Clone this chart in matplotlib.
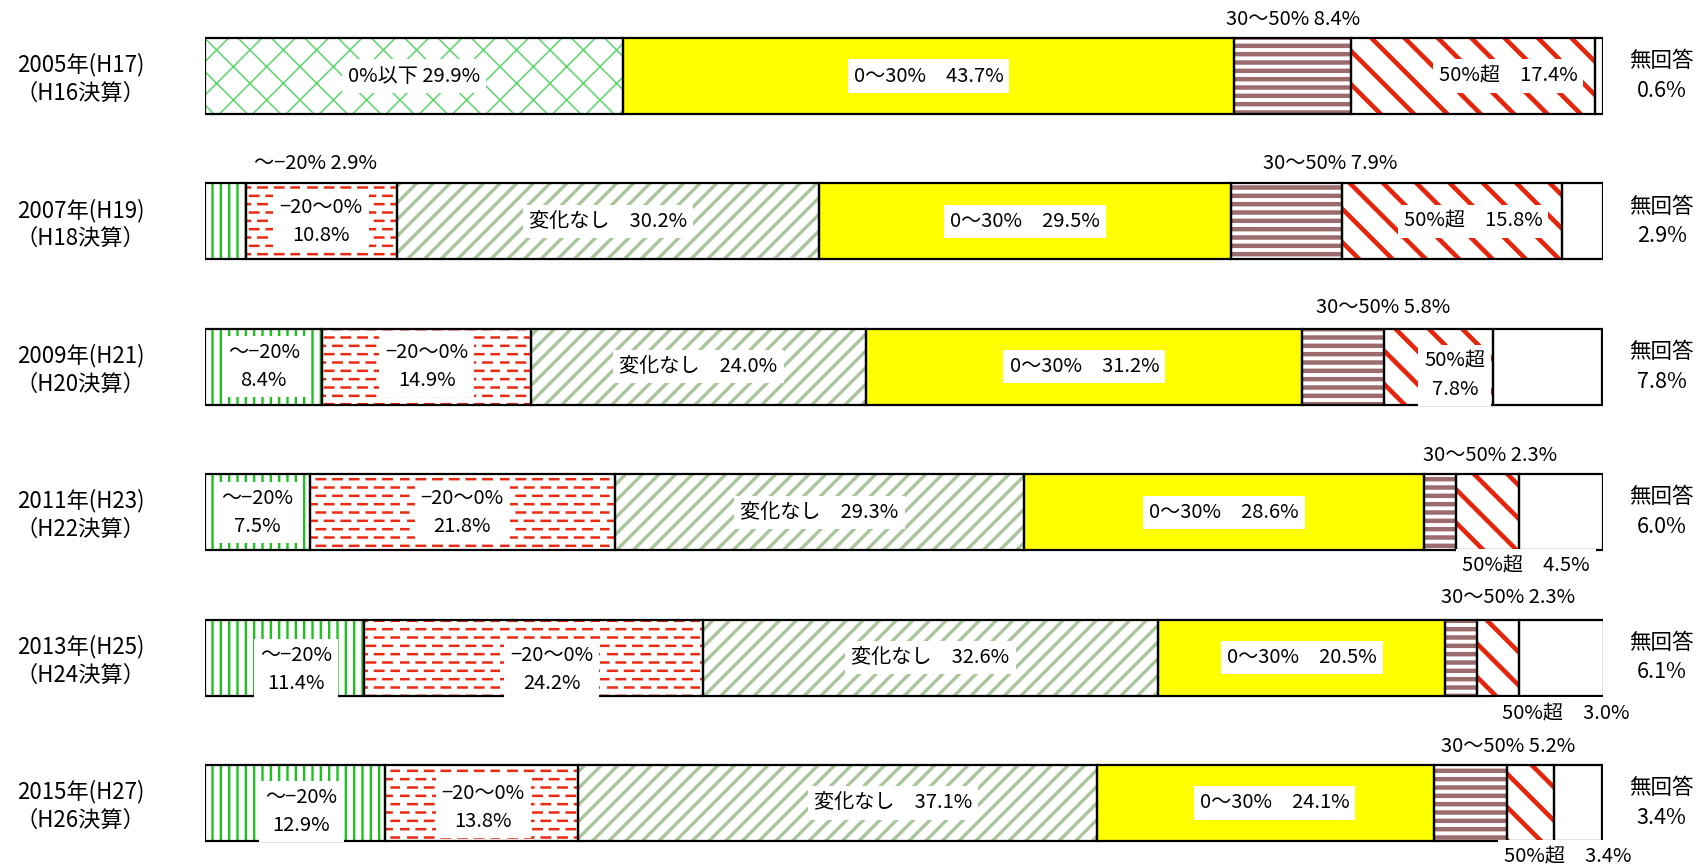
import warnings

import matplotlib
matplotlib.use("Agg")
import matplotlib.pyplot as plt
import matplotlib.hatch as mhatch
from matplotlib.path import Path

warnings.filterwarnings("ignore")
plt.rcParams['font.family'] = ['Noto Sans CJK JP', 'DejaVu Sans']


class DashedRows(mhatch.HatchPatternBase):
    """Staggered dashed horizontal lines, used with the 'd' hatch char."""
    rows = 12
    dashes = 6

    def __init__(self, hatch, density):
        self.on = 'd' in hatch
        self.num_vertices = self.rows * self.dashes * 2 if self.on else 0

    def set_vertices_and_codes(self, vertices, codes):
        k = 0
        for i in range(self.rows):
            y = (i + 0.5) / self.rows
            shift = 0.5 if i % 2 else 0.0
            for j in range(self.dashes):
                x0 = (j + shift) / self.dashes
                vertices[k] = (x0, y)
                vertices[k + 1] = (x0 + 0.5 / self.dashes, y)
                codes[k] = Path.MOVETO
                codes[k + 1] = Path.LINETO
                k += 2


mhatch._hatch_types.append(DashedRows)

# ---- data -------------------------------------------------------------
years = ["2005年(H17)\n（H16決算）", "2007年(H19)\n（H18決算）",
         "2009年(H21)\n（H20決算）", "2011年(H23)\n（H22決算）",
         "2013年(H25)\n（H24決算）", "2015年(H27)\n（H26決算）"]
categories = ["0%以下", "～−20%", "−20～0%", "変化なし",
              "0～30%", "30～50%", "50%超", "無回答"]
v2005 = [29.9, 0, 0, 0, 43.7, 8.4, 17.4, 0.6]
v2007 = [0, 2.9, 10.8, 30.2, 29.5, 7.9, 15.8, 2.9]
v2009 = [0, 8.4, 14.9, 24.0, 31.2, 5.8, 7.8, 7.8]
v2011 = [0, 7.5, 21.8, 29.3, 28.6, 2.3, 4.5, 6.0]
v2013 = [0, 11.4, 24.2, 32.6, 20.5, 2.3, 3.0, 6.1]
v2015 = [0, 12.9, 13.8, 37.1, 24.1, 5.2, 3.4, 3.4]
values = [v2005, v2007, v2009, v2011, v2013, v2015]

# ---- styles -----------------------------------------------------------
# (face, hatch colour, hatch, hatch linewidth)
styles = {
    "0%以下": ("white", "#5ad66a", "x", 1.1),
    "～−20%": ("white", "#1ec21e", "||", 1.7),
    "−20～0%": ("white", "#ea2a12", "d", 1.8),
    "変化なし": ("white", "#a9c59b", "//", 2.4),
    "0～30%": ("#ffff00", "#ffff00", None, 0),
    "30～50%": ("white", "#9b6b6e", "--", 3.2),
    "50%超": ("white", "#e8240c", "\\", 3.3),
    "無回答": ("white", "white", None, 0),
}
seps = {"0%以下": " ", "～−20%": "\n", "−20～0%": "\n", "変化なし": "　",
        "0～30%": "　", "30～50%": " ", "50%超": "　", "無回答": "\n"}
# label placement overrides: (row, category) -> (x %, dy, separator)
place = {
    (0, "30～50%"): (None, -0.39, None),
    (0, "50%超"): (93.2, 0, None),
    (1, "～−20%"): (7.9, -0.40, " "),
    (1, "30～50%"): (80.5, -0.40, None),
    (1, "50%超"): (90.7, 0, None),
    (2, "30～50%"): (84.3, -0.41, None),
    (2, "50%超"): (89.4, 0.06, "\n"),
    (3, "30～50%"): (91.9, -0.39, None),
    (3, "50%超"): (94.5, 0.37, None),
    (4, "～−20%"): (6.5, 0.08, None),
    (4, "−20～0%"): (24.8, 0.08, None),
    (4, "30～50%"): (93.2, -0.41, None),
    (4, "50%超"): (97.3, 0.385, None),
    (5, "～−20%"): (6.9, 0.06, None),
    (5, "−20～0%"): (19.9, 0.03, None),
    (5, "変化なし"): (49.2, 0, None),
    (5, "0～30%"): (76.5, 0, None),
    (5, "30～50%"): (93.2, -0.39, None),
    (5, "50%超"): (97.5, 0.37, None),
}

W, H = 1701, 866
row_px = 145.4
bar_h = 76 / row_px

fig = plt.figure(figsize=(W / 100, H / 100), dpi=100)
ax = fig.add_axes([205 / W, 0, 1398 / W, 1])
ax.set_xlim(0, 100)
ax.set_ylim(5 + (H - 803) / row_px, -76 / row_px)
ax.axis('off')

for i, row in enumerate(values):
    left = 0.0
    for cat, val in zip(categories, row):
        if val == 0:
            continue
        face, hcol, hatch, hlw = styles[cat]
        with plt.rc_context({'hatch.linewidth': max(hlw, 0.1)}):
            bars = ax.barh(i, val, left=left, height=bar_h, color=face,
                           edgecolor=hcol, linewidth=0, hatch=hatch, zorder=1)
        for p in bars:
            if hatch and hasattr(p, "set_hatch_linewidth"):
                p.set_hatch_linewidth(hlw)
        ax.barh(i, val, left=left, height=bar_h, facecolor='none',
                edgecolor='black', linewidth=1.6, zorder=2)

        x, dy, sep = place.get((i, cat), (None, 0, None))
        size = 14.5
        if cat == "無回答":
            x, size = 104.2, 15.5
        if x is None:
            x = left + val / 2
        if sep is None:
            sep = seps[cat]
        label = f"{cat}{sep}{val:.1f}%"
        ax.text(x, i + dy, label, ha='center', va='center', fontsize=size,
                linespacing=1.45, zorder=3, clip_on=False,
                bbox=dict(boxstyle='square,pad=0.3', fc='white', ec='none'))
        left += val

    ax.text(-8.9, i + 0.02, years[i], ha='center', va='center', fontsize=16,
            linespacing=1.3, clip_on=False)

fig.savefig("out.png", dpi=100)
